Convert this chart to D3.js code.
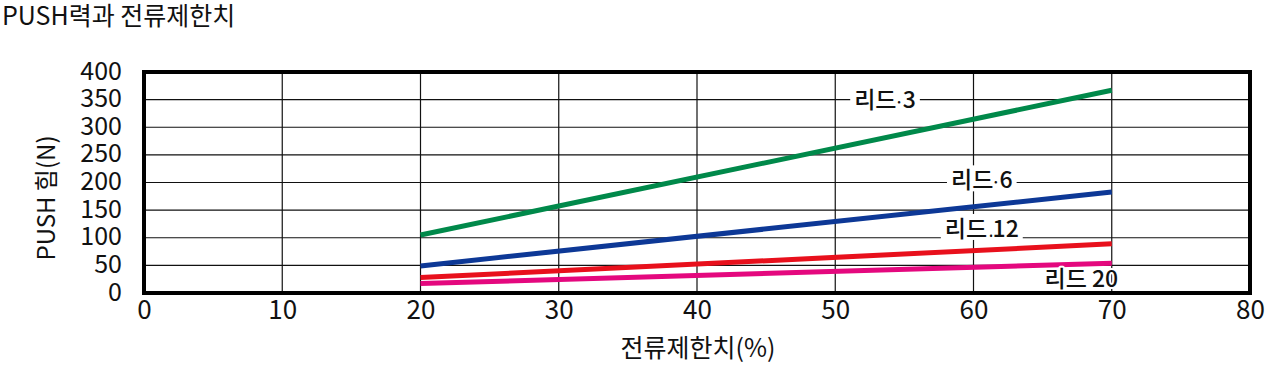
<!DOCTYPE html>
<html><head><meta charset="utf-8">
<script src="https://cdn.jsdelivr.net/npm/d3@7"></script>
<style>body{margin:0;background:#fff}svg{display:block}text{font-family:"Noto Sans CJK KR","Noto Sans",sans-serif;fill:#111}</style>
</head><body>
<script>
const title = "PUSH력과 전류제한치";
const xTitle = "전류제한치(%)";
const yTitle = "PUSH 힘(N)";
const xTicks = [0,10,20,30,40,50,60,70,80];
const yTicks = [0,50,100,150,200,250,300,350,400];
const seriesNames = ["리드·3","리드·6","리드 .12","리드 20"];
const labelHead = ["리드","리드","리드","리드"];
const labelSep = ["·","·"," .",""];
const labelNum = ["3","6","12","20"];
const seriesColors = ["#00894a","#0d3896","#e8101c","#e4087e"];
const xStart = [20,20,20,20];
const xEnd = [70,70,70,70];
const yStart = [105,49,28,17];
const yEnd = [367,183,89,54];
const labelX = [53.6,60.6,60.6,67.8];
const labelY = [350,204,116,25];

const W=1280,H=368;
const m={l:144,r:1250,t:72,b:293};
const FF='"Noto Sans CJK KR","Noto Sans",sans-serif';
const svg=d3.select("body").append("svg").attr("width",W).attr("height",H);
const x=d3.scaleLinear().domain([0,80]).range([m.l,m.r]);
const y=d3.scaleLinear().domain([0,400]).range([m.b,m.t]);

svg.append("text").attr("x",2).attr("y",25).attr("font-size",25).text(title);

// grid
const g=svg.append("g");
g.selectAll(".vx").data(xTicks.slice(1,-1)).join("line")
 .attr("x1",d=>x(d)).attr("x2",d=>x(d)).attr("y1",m.t).attr("y2",m.b).attr("stroke","#111").attr("stroke-width",1.2);
g.selectAll(".hy").data(yTicks.slice(1,-1)).join("line")
 .attr("y1",d=>y(d)).attr("y2",d=>y(d)).attr("x1",m.l).attr("x2",m.r).attr("stroke","#111").attr("stroke-width",1.2);

const xa=svg.append("g").attr("transform",`translate(0,${m.b+4})`).call(d3.axisBottom(x).tickValues(xTicks).tickSize(0).tickPadding(4));
xa.select(".domain").remove();
xa.selectAll("text").attr("font-size",26).style("font-family",FF).attr("fill","#111");
const ya=svg.append("g").attr("transform",`translate(${m.l-22},0)`).call(d3.axisLeft(y).tickValues(yTicks).tickSize(0).tickPadding(0));
ya.select(".domain").remove();
ya.selectAll("text").attr("font-size",25).attr("dy","0.28em").style("font-family",FF).attr("fill","#111");

svg.append("text").attr("x",698).attr("y",357).attr("text-anchor","middle").attr("font-size",25).text(xTitle);
svg.append("text").attr("transform",`translate(55,198) rotate(-90)`).attr("text-anchor","middle").attr("font-size",24).text(yTitle);

// series
seriesNames.forEach((n,i)=>{
  svg.append("line").attr("x1",x(xStart[i])).attr("y1",y(yStart[i])).attr("x2",x(xEnd[i])).attr("y2",y(yEnd[i]))
   .attr("stroke",seriesColors[i]).attr("stroke-width",5);
});

// labels
seriesNames.forEach((n,i)=>{
  const lg=svg.append("g");
  const rect=lg.append("rect").attr("fill","#fff");
  const t=lg.append("text").attr("x",x(labelX[i])).attr("y",y(labelY[i])).attr("dy","0.35em")
   .attr("text-anchor","middle").attr("font-size",23).attr("font-weight",500)
   .attr("stroke","#fff").attr("stroke-width",4).attr("paint-order","stroke").attr("stroke-linejoin","round");
  t.append("tspan").text(labelHead[i]);
  if(labelSep[i]) t.append("tspan").attr("dx",-2).attr("font-size",16).text(labelSep[i]);
  t.append("tspan").attr("dx",labelSep[i]?-1:5).text(labelNum[i]);
  const bb=t.node().getBBox();
  if(i<3) rect.attr("x",bb.x-4).attr("y",bb.y+4).attr("width",bb.width+8).attr("height",bb.height-8);
});

// frame
svg.append("rect").attr("x",m.l).attr("y",m.t).attr("width",m.r-m.l).attr("height",m.b-m.t).attr("fill","none").attr("stroke","#000").attr("stroke-width",4);
</script>
</body></html>
